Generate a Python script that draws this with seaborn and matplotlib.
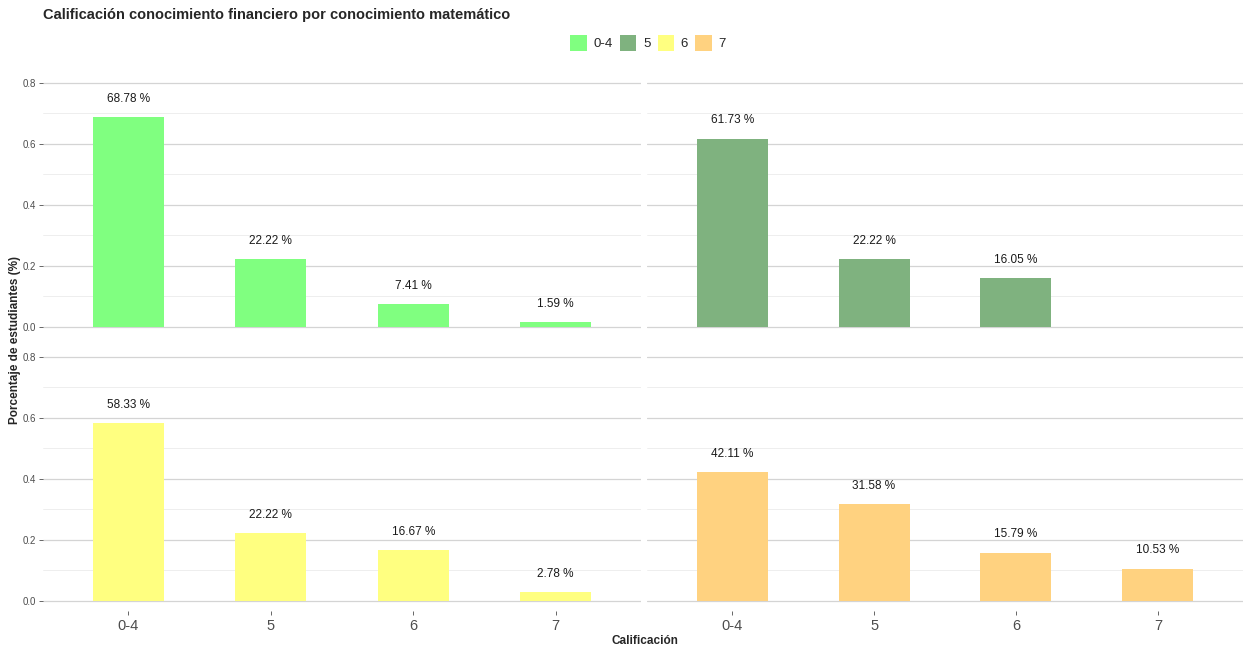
import numpy as np
import pandas as pd
import seaborn as sns
import matplotlib.pyplot as plt
from matplotlib.patches import Patch

# categorias de calificacion
calif = ["0-4", "5", "6", "7"]

# proporciones por grupo de conocimiento matematico
g04 = [0.6878, 0.2222, 0.0741, 0.0159]
g5 = [0.6173, 0.2222, 0.1605, np.nan]
g6 = [0.5833, 0.2222, 0.1667, 0.0278]
g7 = [0.4211, 0.3158, 0.1579, 0.1053]

colores = {"0-4": "#80FF80", "5": "#7FB27F", "6": "#FFFF80", "7": "#FFD280"}

grupos = [("0-4", g04), ("5", g5), ("6", g6), ("7", g7)]

sns.set_theme(style="white")
plt.rcParams['font.family'] = ['Liberation Sans', 'DejaVu Sans']

W, H = 1243, 649
fig = plt.figure(figsize=(W / 100, H / 100), dpi=100)

# posiciones de los paneles en pixeles (x0, y0, x1, y1)
paneles = [(43, 69, 641, 337), (647, 69, 1243, 337),
           (43, 343, 641, 611), (647, 343, 1243, 611)]

ymin, ymax = -0.034, 0.846

for k, (nombre, vals) in enumerate(grupos):
    x0, y0, x1, y1 = paneles[k]
    ax = fig.add_axes([x0 / W, 1 - y1 / H, (x1 - x0) / W, (y1 - y0) / H])
    df = pd.DataFrame({"calif": calif, "prop": vals}).dropna()
    sns.barplot(data=df, x="calif", y="prop", order=calif, color=colores[nombre],
                saturation=1, width=0.5, linewidth=0, ax=ax, zorder=3)
    for i, v in enumerate(vals):
        if np.isnan(v):
            continue
        ax.text(i, v + 0.04, f"{v*100:.2f} %", ha="center", va="bottom",
                fontsize=8.5, color="#1a1a1a", zorder=4)
    ax.set_xlim(-0.6, 3.6)
    ax.set_ylim(ymin, ymax)
    ax.set_yticks([0.0, 0.2, 0.4, 0.6, 0.8])
    ax.set_yticks([0.1, 0.3, 0.5, 0.7], minor=True)
    ax.grid(axis="y", which="major", color="#D4D4D4", linewidth=0.9, zorder=0)
    ax.grid(axis="y", which="minor", color="#EBEBEB", linewidth=0.6, zorder=0)
    ax.grid(axis="x", visible=False)
    for s in ax.spines.values():
        s.set_visible(False)
    ax.set_xlabel("")
    ax.set_ylabel("")
    if k % 2 == 0:
        ax.set_yticklabels(["0.0", "0.2", "0.4", "0.6", "0.8"])
        ax.tick_params(axis="y", which="major", left=True, length=3, width=0.6,
                       color="#4D4D4D", labelsize=7, labelcolor="#4D4D4D", pad=2)
    else:
        ax.tick_params(axis="y", left=False, labelleft=False)
    ax.tick_params(axis="y", which="minor", left=False)
    if k >= 2:
        ax.tick_params(axis="x", bottom=True, length=3, width=0.6, color="#4D4D4D",
                       labelsize=10.5, labelcolor="#4D4D4D", pad=3)
    else:
        ax.tick_params(axis="x", bottom=False, labelbottom=False)

# titulo, ejes y leyenda
fig.text(43 / W, 1 - 15 / H, "Calificación conocimiento financiero por conocimiento matemático",
         fontsize=10.5, fontweight="bold", ha="left", va="center")
fig.text(15 / W, 1 - 340 / H, "Porcentaje de estudiantes (%)", rotation=90,
         fontsize=8.5, fontweight="bold", ha="center", va="center")
fig.text(645 / W, 1 - 641 / H, "Calificación", fontsize=8.5, fontweight="bold",
         ha="center", va="center")

handles = [Patch(facecolor=colores[c], edgecolor="none", label=c) for c in calif]
fig.legend(handles=handles, loc="center", bbox_to_anchor=(648 / W, 1 - 43 / H),
           ncol=4, frameon=False, fontsize=9.5, handlelength=1.25, handleheight=1.45,
           handletextpad=0.5, columnspacing=0.55, borderaxespad=0)

fig.savefig("out.png", dpi=100)
